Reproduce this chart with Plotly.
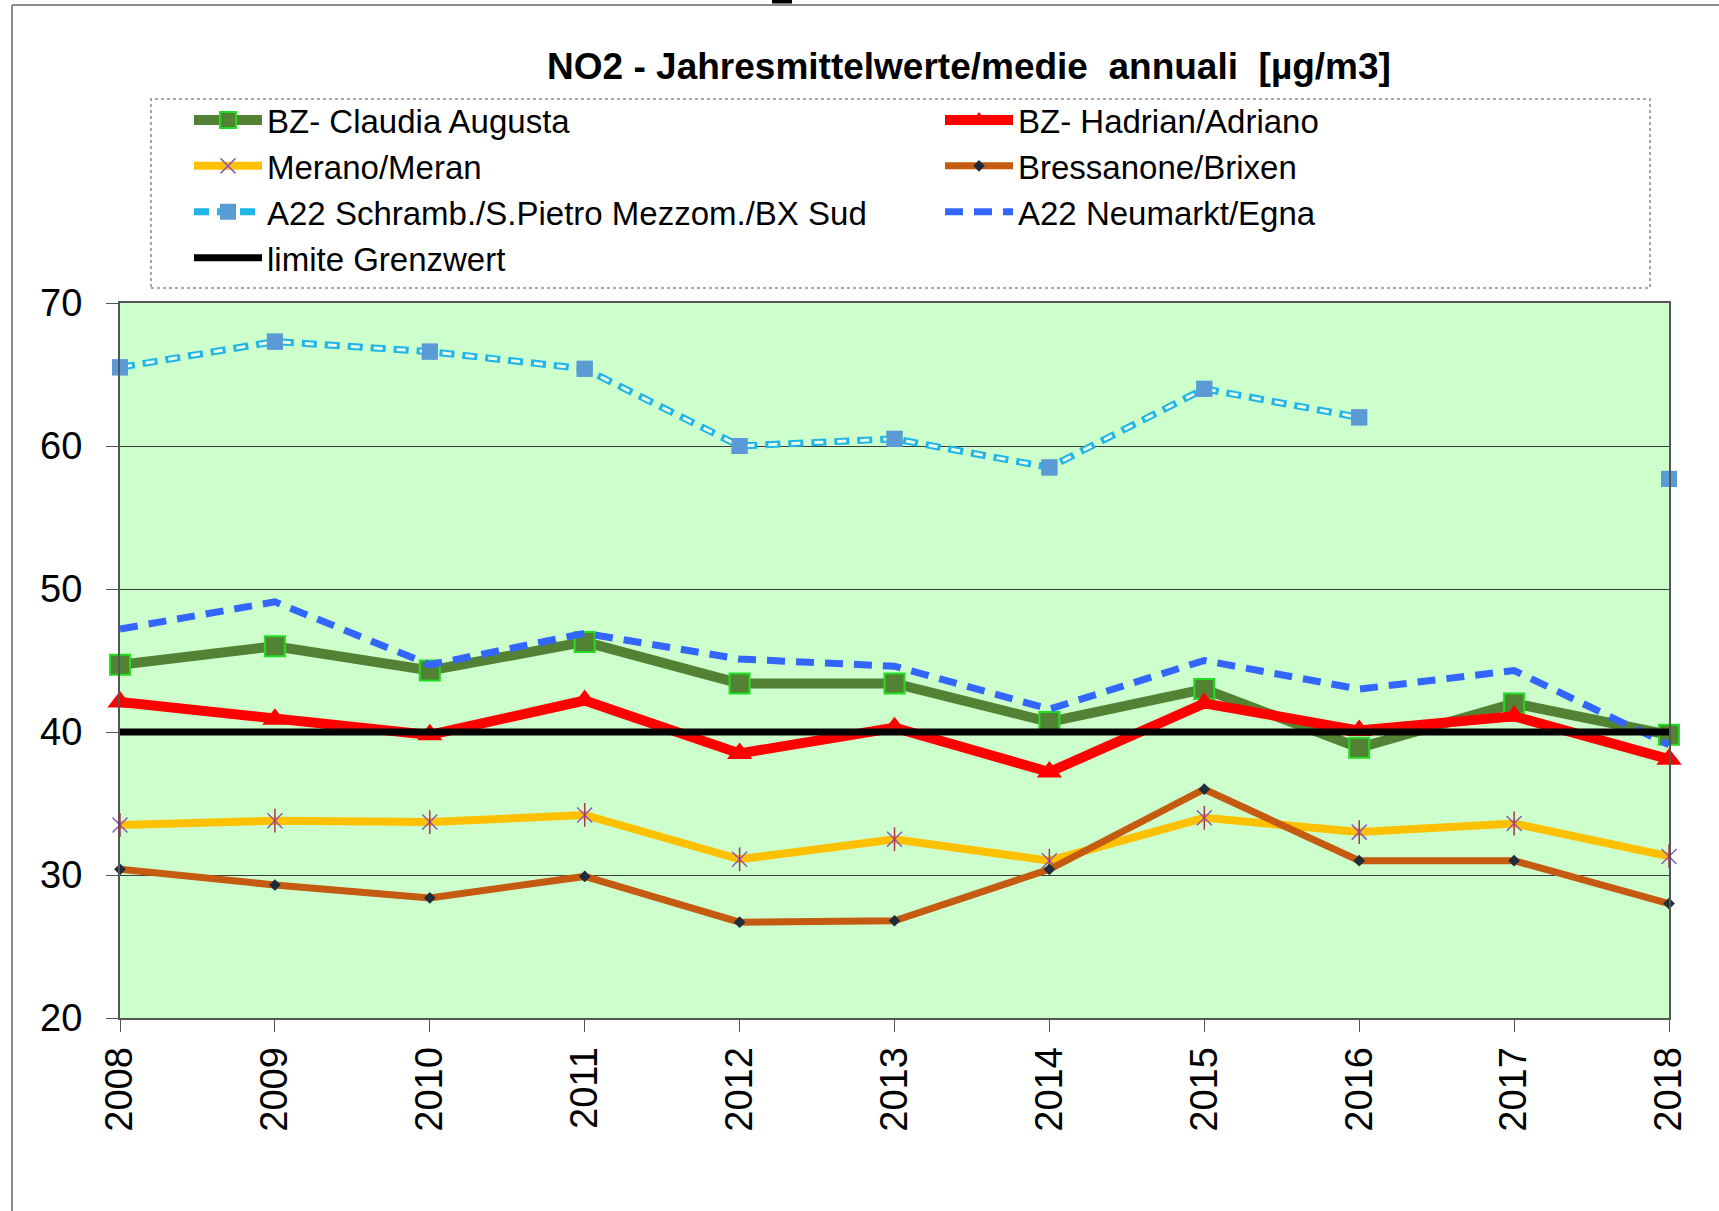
import plotly.graph_objects as go

years = [2008, 2009, 2010, 2011, 2012, 2013, 2014, 2015, 2016, 2017, 2018]
claudia = [44.7, 46.0, 44.3, 46.3, 43.4, 43.4, 40.7, 43.0, 38.9, 42.0, 39.8]
hadrian = [42.1, 40.9, 39.8, 42.2, 38.5, 40.3, 37.2, 42.0, 40.1, 41.1, 38.1]
merano = [33.5, 33.8, 33.7, 34.2, 31.1, 32.5, 31.0, 34.0, 33.0, 33.6, 31.3]
bressanone = [30.4, 29.3, 28.4, 29.9, 26.7, 26.8, 30.4, 36.0, 31.0, 31.0, 28.0]
schramb = [65.5, 67.3, 66.6, 65.4, 60.0, 60.5, 58.5, 64.0, 62.0, None, 57.7]
neumarkt = [47.2, 49.1, 44.7, 46.9, 45.1, 44.6, 41.6, 45.0, 43.0, 44.3, 39.1]
limit = [40, 40, 40, 40, 40, 40, 40, 40, 40, 40, 40]

names = ["BZ- Claudia Augusta", "BZ- Hadrian/Adriano", "Merano/Meran",
         "Bressanone/Brixen", "A22 Schramb./S.Pietro Mezzom./BX Sud",
         "A22 Neumarkt/Egna", "limite Grenzwert"]
title_text = "NO2 - Jahresmittelwerte/medie  annuali  [µg/m3]"

W, H = 1719, 1211
# plot area in page coordinates
PL, PR, PT, PB = 120, 1669, 303, 1018
ML, MR, MT, MB = PL, W - PR, PT, H - PB
PW, PH = PR - PL, PB - PT


def px(x):
    return (x - PL) / PW


def py(y):
    return 1 + (PT - y) / PH


FONT = "Liberation Sans, Arial, sans-serif"
BG = "#ccffcc"

fig = go.Figure()

fig.add_trace(go.Scatter(
    x=years, y=claudia, name=names[0], mode="lines+markers",
    line=dict(color="#548235", width=10),
    marker=dict(symbol="square", size=20, color="#548235",
                line=dict(color="#22dd22", width=2)),
    cliponaxis=False))

fig.add_trace(go.Scatter(
    x=years, y=hadrian, name=names[1], mode="lines+markers",
    line=dict(color="#ff0000", width=10),
    marker=dict(symbol="triangle-up", size=22, color="#ff0000"),
    cliponaxis=False))

fig.add_trace(go.Scatter(
    x=years, y=merano, name=names[2], mode="lines+markers",
    line=dict(color="#ffc000", width=8),
    marker=dict(symbol="x-thin-open", size=15, color="#8e5ab5",
                line=dict(color="#8e5ab5", width=1.5)),
    cliponaxis=False))
fig.add_trace(go.Scatter(
    x=years, y=merano, name=names[2], mode="markers", showlegend=False,
    marker=dict(symbol="line-ns-open", size=17, color="#b03060",
                line=dict(color="#a03070", width=1.5)),
    cliponaxis=False))

fig.add_trace(go.Scatter(
    x=years, y=bressanone, name=names[3], mode="lines+markers",
    line=dict(color="#c55a11", width=7),
    marker=dict(symbol="diamond", size=9, color="#1f2d3a"),
    cliponaxis=False))

fig.add_trace(go.Scatter(
    x=years, y=schramb, name=names[4], mode="lines+markers",
    line=dict(color="#1fb5e8", width=7, dash="15px,8px"),
    marker=dict(symbol="square", size=16, color="#5b9bd5"),
    connectgaps=False, cliponaxis=False))
fig.add_trace(go.Scatter(
    x=years, y=schramb, name=names[4], mode="lines", showlegend=False,
    line=dict(color="#e6fbe6", width=3, dash="0px,3px,9px,11px"),
    connectgaps=False, cliponaxis=False))
fig.add_trace(go.Scatter(
    x=years, y=schramb, name=names[4], mode="markers", showlegend=False,
    marker=dict(symbol="square", size=16, color="#5b9bd5"),
    cliponaxis=False))

fig.add_trace(go.Scatter(
    x=years, y=neumarkt, name=names[5], mode="lines",
    line=dict(color="#3366ff", width=7, dash="18px,11px"),
    cliponaxis=False))

fig.add_trace(go.Scatter(
    x=years, y=limit, name=names[6], mode="lines",
    line=dict(color="#000000", width=7),
    cliponaxis=False))

shapes = [
    # legend frame (dotted)
    dict(type="rect", xref="paper", yref="paper",
         x0=px(151), x1=px(1650), y0=py(288), y1=py(99),
         line=dict(color="#8a8a8a", width=1.5, dash="dot"), layer="below"),
    # page frame
    dict(type="line", xref="paper", yref="paper",
         x0=px(12), x1=px(W + 20), y0=py(5), y1=py(5),
         line=dict(color="#8c8c8c", width=2)),
    dict(type="line", xref="paper", yref="paper",
         x0=px(12), x1=px(12), y0=py(5), y1=py(H + 20),
         line=dict(color="#8c8c8c", width=2)),
    # small black mark at top edge
    dict(type="rect", xref="paper", yref="paper",
         x0=px(772), x1=px(792), y0=py(3.5), y1=py(-5),
         line=dict(width=0), fillcolor="#000000"),
]

fig.update_layout(
    width=W, height=H,
    margin=dict(l=ML, r=MR, t=MT, b=MB, pad=0, autoexpand=False),
    paper_bgcolor="white", plot_bgcolor=BG,
    font=dict(family=FONT, color="black"),
    title=dict(text="<b>" + title_text + "</b>", x=969 / W, xanchor="center",
               y=1 - 66 / H, yanchor="middle", xref="container", yref="container",
               font=dict(family=FONT, size=37, color="black")),
    showlegend=True,
    legend=dict(orientation="h", xref="paper", yref="paper",
                x=px(189), xanchor="left", y=py(92), yanchor="top",
                entrywidth=668, entrywidthmode="pixels", itemwidth=68,
                font=dict(family=FONT, size=33, color="black"),
                bgcolor="rgba(0,0,0,0)", borderwidth=0, traceorder="normal"),
    shapes=shapes,
    xaxis=dict(range=[2008, 2018], tickmode="linear", tick0=2008, dtick=1,
               tickangle=-90, ticks="outside", ticklen=12, tickcolor="#555555",
               tickfont=dict(family=FONT, size=38, color="black"),
               showline=True, linecolor="#555555", linewidth=2, mirror=True,
               showgrid=False, zeroline=False),
    yaxis=dict(range=[20, 70], tickmode="linear", tick0=20, dtick=10,
               ticks="outside", ticklen=12, tickcolor="#555555",
               ticklabelstandoff=16,
               tickfont=dict(family=FONT, size=38, color="black"),
               showline=True, linecolor="#555555", linewidth=2, mirror=True,
               showgrid=True, gridcolor="#3c3c3c", gridwidth=1.3, zeroline=False),
)

fig.write_html("out.html", config={"displayModeBar": False},
               post_script="document.body.style.margin='0';"
                           "document.body.style.overflow='hidden';")
